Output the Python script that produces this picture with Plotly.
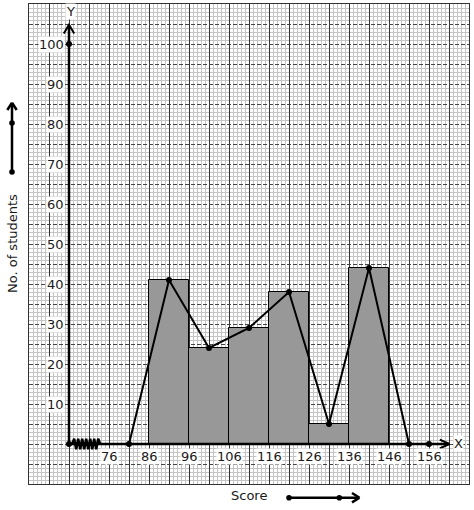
import plotly.graph_objects as go

# histogram data
bin_left = [86, 96, 106, 116, 126, 136]
bin_width = [10, 10, 10, 10, 10, 10]
students = [41, 24, 29, 38, 5, 44]

# frequency polygon (class marks, with empty classes at both ends)
poly_x = [81, 91, 101, 111, 121, 131, 141, 151]
poly_y = [0, 41, 24, 29, 38, 5, 44, 0]

x_ticks = [76, 86, 96, 106, 116, 126, 136, 146, 156]
y_ticks = [10, 20, 30, 40, 50, 60, 70, 80, 90, 100]

# kink drawn on the x axis near origin
kink_x = [66.8, 67.3, 67.8, 68.3, 68.8, 69.3, 69.8, 70.3, 70.8, 71.3, 71.8, 72.3, 72.8, 73.3, 73.8]
kink_y = [0, 1.3, -1.3, 1.3, -1.3, 1.3, -1.3, 1.3, -1.3, 1.3, -1.3, 1.3, -1.3, 1.3, 0]

FONT = "DejaVu Sans"
txt = dict(family=FONT, size=13, color="#1a1a1a")

fig = go.Figure()

fig.add_trace(go.Bar(
    x=[l + w / 2 for l, w in zip(bin_left, bin_width)], y=students, width=bin_width,
    marker=dict(color="#989898", line=dict(color="black", width=1)),
    hoverinfo="skip"))

# axes drawn as thick lines
fig.add_trace(go.Scatter(x=[66, 66], y=[0, 104.7], mode="lines",
                         line=dict(color="black", width=2.5), hoverinfo="skip"))
fig.add_trace(go.Scatter(x=[66, 161], y=[0, 0], mode="lines",
                         line=dict(color="black", width=2.5), hoverinfo="skip"))
# arrow heads
fig.add_trace(go.Scatter(x=[64.7, 66, 67.3], y=[102.6, 104.8, 102.6], mode="lines",
                         line=dict(color="black", width=2), hoverinfo="skip"))
fig.add_trace(go.Scatter(x=[158.7, 161.1, 158.7], y=[1.1, 0, -1.1], mode="lines",
                         line=dict(color="black", width=2), hoverinfo="skip"))
fig.add_trace(go.Scatter(x=kink_x, y=kink_y, mode="lines",
                         line=dict(color="black", width=2.5), hoverinfo="skip"))
fig.add_trace(go.Scatter(x=[66, 66, 156], y=[0, 100, 0], mode="markers",
                         marker=dict(color="black", size=6), hoverinfo="skip"))

fig.add_trace(go.Scatter(x=poly_x, y=poly_y, mode="lines+markers",
                         line=dict(color="black", width=2),
                         marker=dict(color="black", size=6), cliponaxis=False,
                         hoverinfo="skip"))

annotations = []
for v in x_ticks:
    annotations.append(dict(x=v, y=-3, text=str(v), showarrow=False, bgcolor="white",
                            font=txt, borderpad=0))
for v in y_ticks:
    annotations.append(dict(x=65, y=v, text=str(v), showarrow=False, bgcolor="white",
                            xanchor="right", font=txt, borderpad=0))
annotations.append(dict(x=66.3, y=108.2, text="Y", showarrow=False, bgcolor="white",
                        font=txt, borderpad=0))
annotations.append(dict(x=163.3, y=0.2, text="X", showarrow=False, bgcolor="white",
                        font=txt, borderpad=0))
annotations.append(dict(x=-0.0386, y=0.5, xref="paper", yref="paper", text="No. of students",
                        textangle=-90, showarrow=False, xanchor="center", yanchor="middle",
                        font=txt))
annotations.append(dict(x=0.5, y=-0.025, xref="paper", yref="paper", text="Score",
                        showarrow=False, xanchor="center", yanchor="middle", font=txt))


def px(x):
    return (x - 29) / 440


def py(y):
    return (484 - y) / 480


shapes = []
# direction arrows outside the plot
for (x0, y0, x1, y1) in [(12, 172, 12, 103), (7.3, 110, 12, 102.7), (16.7, 110, 12, 102.7),
                         (289, 497.7, 359, 497.7), (352, 493, 359.5, 497.7), (352, 502.4, 359.5, 497.7)]:
    shapes.append(dict(type="line", xref="paper", yref="paper",
                       x0=px(x0), y0=py(y0), x1=px(x1), y1=py(y1),
                       line=dict(color="black", width=2.5)))
for (cx, cy) in [(12, 172), (12, 123), (289, 497.7), (339.3, 497.7)]:
    shapes.append(dict(type="circle", xref="paper", yref="paper",
                       xsizemode="pixel", ysizemode="pixel",
                       xanchor=px(cx), yanchor=py(cy), x0=-2.8, x1=2.8, y0=-2.8, y1=2.8,
                       fillcolor="black", line=dict(color="black", width=0)))

fig.update_layout(
    width=474, height=510,
    margin=dict(l=29, r=5, t=4, b=26),
    paper_bgcolor="white", plot_bgcolor="white",
    showlegend=False, bargap=0, hovermode=False,
    annotations=annotations, shapes=shapes,
    xaxis=dict(range=[56, 166], dtick=5, tick0=56, showgrid=True, gridcolor="#333333",
               gridwidth=1, zeroline=False, showticklabels=False, ticks="",
               showline=True, mirror=True, linecolor="#333333", linewidth=1,
               minor=dict(dtick=1, tick0=56, showgrid=True, gridcolor="#c4c4c4",
                          gridwidth=1, griddash="solid")),
    yaxis=dict(range=[-10, 110], dtick=5, tick0=-10, showgrid=True, gridcolor="#444444",
               griddash="4px,2px", gridwidth=1, zeroline=False, showticklabels=False,
               ticks="", showline=True, mirror=True, linecolor="#333333", linewidth=1,
               minor=dict(dtick=1, tick0=-10, showgrid=True, gridcolor="#c4c4c4",
                          gridwidth=1, griddash="solid")),
)

# the page body has a default 8px margin; remove it so the figure sits at the window corner
fig.write_html("out.html", config={"displayModeBar": False},
               post_script="document.body.style.margin='0';")
